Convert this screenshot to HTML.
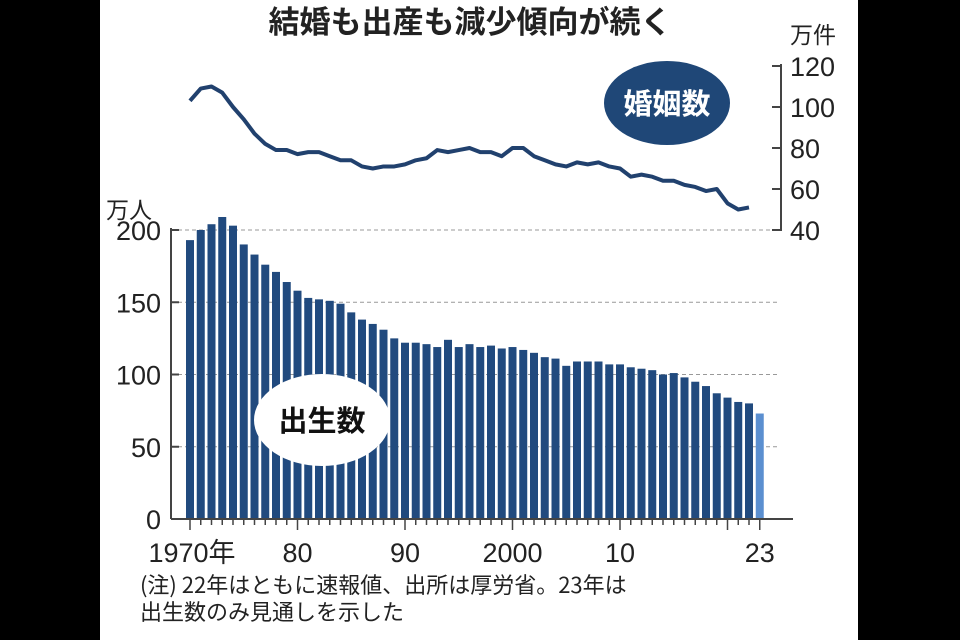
<!DOCTYPE html>
<html><head><meta charset="utf-8"><style>
body{margin:0;background:#000;width:960px;height:640px;overflow:hidden}
svg{display:block}
text{font-family:"Liberation Sans","Noto Sans CJK JP",sans-serif;fill:#222}
</style></head><body>
<svg id="s" width="960" height="640" xmlns="http://www.w3.org/2000/svg">
<rect x="100" y="0" width="758" height="640" fill="#fff"/>
<text x="470" y="33" font-size="31" font-weight="bold" text-anchor="middle" style="font-family:'Noto Sans CJK JP',sans-serif">結婚も出産も減少傾向が続く</text>
<text x="790" y="43" font-size="23" style="font-family:'Noto Sans CJK JP',sans-serif">万件</text>
<text x="106" y="218" font-size="23" style="font-family:'Noto Sans CJK JP',sans-serif">万人</text>
<g id="g"></g>
<text x="140" y="593" font-size="22" style="font-family:'Noto Sans CJK JP',sans-serif">(注) 22年はともに速報値、出所は厚労省。23年は</text>
<text x="140" y="620" font-size="22" style="font-family:'Noto Sans CJK JP',sans-serif">出生数のみ見通しを示した</text>
</svg>
<script>
var g=document.getElementById('g'),h='';
var b=[193,200,204,209,203,190,183,176,171,164,158,153,152,151,149,143,138,135,131,125,122,122,121,119,124,119,121,119,120,118,119,117,115,112,111,106,109,109,109,107,107,105,104,103,100,101,98,95,92,87,84,81,80,73];
var m=[103,109,110,107,100,94,87,82,79,79,77,78,78,76,74,74,71,70,71,71,72,74,75,79,78,79,80,78,78,76,80,80,76,74,72,71,73,72,73,71,70,66,67,66,64,64,62,61,59,60,53,50,51];
function X(i){return 190+i*10.75}
function Y(v){return 519-v*1.445}
function R(v){return 230-(v-40)*2.05}
[50,100,150,200].forEach(function(v){h+='<line x1="171" x2="778" y1="'+Y(v)+'" y2="'+Y(v)+'" stroke="#999" stroke-dasharray="4,3"/>';});
b.forEach(function(v,i){h+='<rect x="'+(X(i)-4)+'" y="'+Y(v)+'" width="8" height="'+(v*1.445)+'" fill="'+(i==53?'#5b8fd0':'#214a7e')+'"/>';});
h+='<line x1="171" y1="228" x2="171" y2="519" stroke="#444" stroke-width="2"/><line x1="171" y1="519" x2="793" y2="519" stroke="#444" stroke-width="2"/>';
[0,50,100,150,200].forEach(function(v){h+='<line x1="171" x2="179" y1="'+Y(v)+'" y2="'+Y(v)+'" stroke="#444" stroke-width="2"/><text x="161" y="'+(Y(v)+10)+'" font-size="27" text-anchor="end">'+v+'</text>';});
for(var i=0;i<54;i++){var big=(i%10==0||i==53);h+='<line x1="'+X(i)+'" x2="'+X(i)+'" y1="519" y2="'+(big?530:525)+'" stroke="#444" stroke-width="1.5"/>';}
[['1970年',0],['80',10],['90',20],['2000',30],['10',40],['23',53]].forEach(function(a){h+='<text x="'+(X(a[1])+(a[1]==0?2:0))+'" y="562" font-size="27" text-anchor="middle" style="font-family:\'Liberation Sans\',\'Noto Sans CJK JP\',sans-serif">'+a[0]+'</text>';});
h+='<line x1="781" y1="64" x2="781" y2="231" stroke="#444" stroke-width="2"/>';
[40,60,80,100,120].forEach(function(v){h+='<line x1="772" x2="781" y1="'+R(v)+'" y2="'+R(v)+'" stroke="#444" stroke-width="2"/><text x="790" y="'+(R(v)+10)+'" font-size="27">'+v+'</text>';});
var p=m.map(function(v,i){return X(i)+','+R(v)}).join(' ');
h+='<polyline points="'+p+'" fill="none" stroke="#21416e" stroke-width="4" stroke-linejoin="round"/>';
h+='<ellipse cx="667" cy="103" rx="63" ry="42" fill="#1f4777"/><text x="667" y="114" font-size="29" font-weight="bold" text-anchor="middle" style="fill:#fff;font-family:\'Noto Sans CJK JP\',sans-serif">婚姻数</text>';
h+='<ellipse cx="322" cy="420" rx="68" ry="46" fill="#fff"/><text x="322" y="431" font-size="29" font-weight="bold" text-anchor="middle" style="fill:#111;font-family:\'Noto Sans CJK JP\',sans-serif">出生数</text>';
g.innerHTML=h;
</script>
</body></html>
